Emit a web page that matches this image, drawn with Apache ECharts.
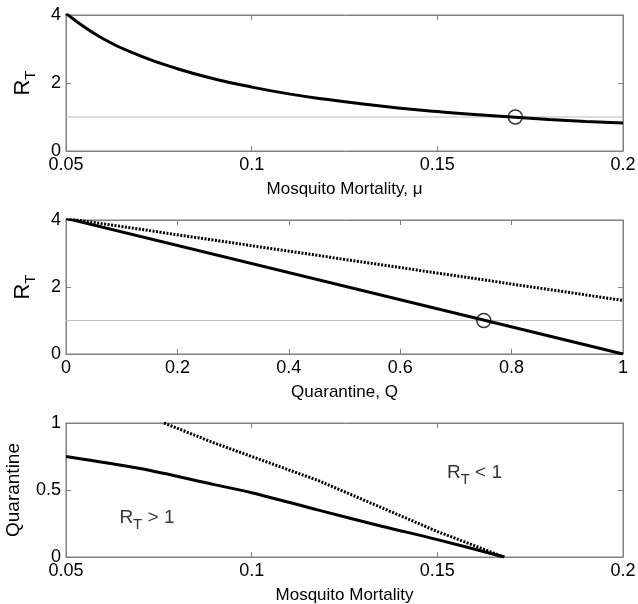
<!DOCTYPE html>
<html>
<head>
<meta charset="utf-8">
<script src="https://cdn.jsdelivr.net/npm/echarts@6/dist/echarts.min.js"></script>
<style>
  body { margin: 0; background: #fff; }
  #chart { width: 638px; height: 604px; }
</style>
</head>
<body>
<div id="chart"></div>
<script>
// panel 1: R_T vs mosquito mortality
var mortality1 = [0.05, 0.06, 0.07, 0.08, 0.09, 0.10, 0.11, 0.12, 0.13, 0.14, 0.15, 0.16, 0.17, 0.18, 0.19, 0.20];
var rt1 = [4.05, 3.3, 2.8, 2.42, 2.12, 1.88, 1.68, 1.52, 1.38, 1.26, 1.16, 1.07, 1.0, 0.93, 0.87, 0.82];
var threshold1 = [[0.171, 1]];
// panel 2: R_T vs quarantine
var quarantine = [0, 1];
var rtSolid = [4.05, 0];
var rtDotted = [4.05, 1.6];
var threshold2 = [[0.75, 1]];
// panel 3: quarantine vs mortality boundary
var mortSolid = [0.05, 0.07, 0.09, 0.10, 0.118, 0.135, 0.15, 0.168];
var qSolid = [0.75, 0.66, 0.54, 0.48, 0.35, 0.23, 0.13, 0];
var mortDotted = [0.0764, 0.09, 0.118, 0.15, 0.168];
var qDotted = [1, 0.85, 0.57, 0.19, 0];

function pairs(xs, ys) { return xs.map(function (x, i) { return [x, ys[i]]; }); }

var font = 'Liberation Sans, Arial, sans-serif';
var frame = '#808080';
var rich = { s: { fontSize: 15, fontFamily: font, color: '#000', padding: [16, 0, 0, 0] } };
var grids = [
    { left: 66, right: 15, top: 15, height: 136 },
    { left: 66, right: 15, top: 220, height: 134 },
    { left: 66, right: 15, top: 423, height: 134 }
].map(function (g) {
    g.containLabel = false; g.outerBoundsMode = 'none';
    g.show = true; g.borderColor = frame; g.borderWidth = 1;
    return g;
});

function xAxis(i, min, max, interval, name) {
    return {
        type: 'value', gridIndex: i, min: min, max: max, interval: interval,
        name: name, nameLocation: 'middle', nameGap: 30,
        nameTextStyle: { fontSize: 17, fontFamily: font, color: '#000' },
        axisLine: { onZero: false, lineStyle: { color: frame } },
        axisTick: { inside: true, length: 5, lineStyle: { color: frame } },
        axisLabel: { fontSize: 18, fontFamily: font, color: '#000', margin: 5 },
        splitLine: { show: false }
    };
}
function yAxis(i, min, max, interval, name, gap) {
    return {
        type: 'value', gridIndex: i, min: min, max: max, interval: interval,
        name: name, nameLocation: 'middle', nameGap: gap,
        nameTextStyle: { fontSize: 22, fontFamily: font, color: '#000', rich: rich },
        axisLine: { onZero: false, lineStyle: { color: frame } },
        axisTick: { inside: true, length: 5, lineStyle: { color: frame } },
        axisLabel: { fontSize: 18, fontFamily: font, color: '#000', margin: 5 },
        splitLine: { show: false }
    };
}
function mirror(axis, pos) {
    return {
        type: 'value', gridIndex: axis.gridIndex, min: axis.min, max: axis.max, interval: axis.interval,
        position: pos,
        axisLine: { show: true, onZero: false, lineStyle: { color: frame } },
        axisTick: { show: true, inside: true, length: 5, lineStyle: { color: frame } },
        axisLabel: { show: false }, splitLine: { show: false }
    };
}

var xs = [
    xAxis(0, 0.05, 0.2, 0.05, 'Mosquito Mortality, μ'),
    xAxis(1, 0, 1, 0.2, 'Quarantine, Q'),
    xAxis(2, 0.05, 0.2, 0.05, 'Mosquito Mortality')
];
var y3 = yAxis(2, 0, 1, 0.5, 'Quarantine', 43);
y3.nameTextStyle.fontSize = 19;
var ys = [
    yAxis(0, 0, 4, 2, 'R{s|T}', 28),
    yAxis(1, 0, 4, 2, 'R{s|T}', 28),
    y3
];

var black = { color: '#000', width: 3 };
var option = {
    animation: false,
    grid: grids,
    xAxis: xs.concat(xs.map(function (a) { return mirror(a, 'top'); })),
    yAxis: ys.concat(ys.map(function (a) { return mirror(a, 'right'); })),
    series: [
        { type: 'line', xAxisIndex: 0, yAxisIndex: 0, data: [[0.05, 1], [0.2, 1]], symbol: 'none',
          lineStyle: { color: '#bbb', width: 1 }, z: 1 },
        { type: 'line', xAxisIndex: 0, yAxisIndex: 0, data: pairs(mortality1, rt1), symbol: 'none',
          smooth: true, lineStyle: black },
        { type: 'scatter', xAxisIndex: 0, yAxisIndex: 0, data: threshold1, symbol: 'circle', symbolSize: 14,
          itemStyle: { color: 'rgba(0,0,0,0)', borderColor: '#000', borderWidth: 1.5 }, z: 5 },

        { type: 'line', xAxisIndex: 1, yAxisIndex: 1, data: [[0, 1], [1, 1]], symbol: 'none',
          lineStyle: { color: '#bbb', width: 1 }, z: 1 },
        { type: 'line', xAxisIndex: 1, yAxisIndex: 1, data: pairs(quarantine, rtDotted), symbol: 'none',
          lineStyle: { color: '#000', width: 3, type: [2, 1.5] } },
        { type: 'line', xAxisIndex: 1, yAxisIndex: 1, data: pairs(quarantine, rtSolid), symbol: 'none',
          lineStyle: black },
        { type: 'scatter', xAxisIndex: 1, yAxisIndex: 1, data: threshold2, symbol: 'circle', symbolSize: 14,
          itemStyle: { color: 'rgba(0,0,0,0)', borderColor: '#000', borderWidth: 1.5 }, z: 5 },

        { type: 'line', xAxisIndex: 2, yAxisIndex: 2, data: pairs(mortSolid, qSolid), symbol: 'none',
          smooth: 0.3, lineStyle: black },
        { type: 'line', xAxisIndex: 2, yAxisIndex: 2, data: pairs(mortDotted, qDotted), symbol: 'none',
          lineStyle: { color: '#000', width: 3, type: [2, 1.5] } },
        { type: 'scatter', xAxisIndex: 2, yAxisIndex: 2, symbolSize: 0, silent: true,
          data: [
              { value: [0.0718, 0.29], label: { formatter: '{n|R}{s|T}{n| > 1}' } },
              { value: [0.16, 0.63], label: { formatter: '{n|R}{s|T}{n| < 1}' } }
          ],
          label: { show: true, position: 'inside', fontSize: 19, fontFamily: font, color: '#000',
                   rich: { n: { fontSize: 19, fontFamily: font, color: '#000' },
                           s: { fontSize: 15, fontFamily: font, color: '#000', padding: [14, 0, 0, 0] } } } }
    ]
};
var myChart = echarts.init(document.getElementById('chart'));
myChart.setOption(option);
</script>
</body>
</html>
